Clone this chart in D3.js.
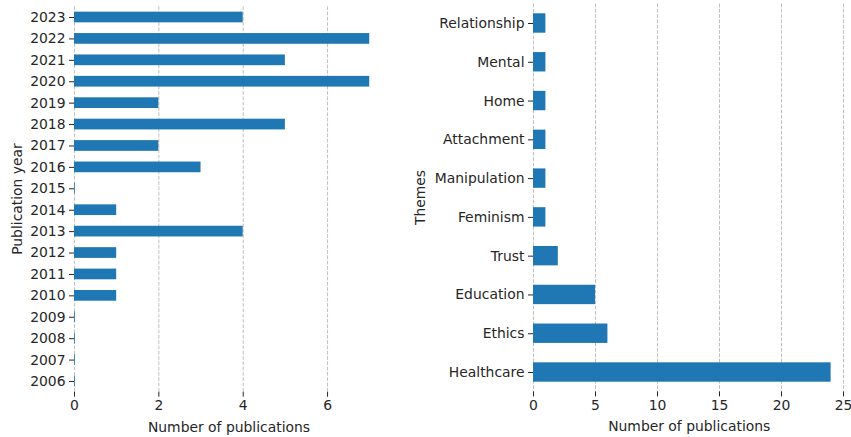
<!DOCTYPE html>
<html><head><meta charset="utf-8">
<script src="https://cdn.jsdelivr.net/npm/d3@7"></script>
<style>
body{margin:0;background:#fff;}
text{font-family:"DejaVu Sans",sans-serif;fill:#262626;}
</style></head>
<body>
<svg id="c" width="851" height="437"></svg>
<script>
const years = ["2006","2007","2008","2009","2010","2011","2012","2013","2014","2015","2016","2017","2018","2019","2020","2021","2022","2023"];
const yearCounts = [0,0,0,0,1,1,1,4,1,0,3,2,5,2,7,5,7,4];
const yearTicks = [0,2,4,6];

const themes = ["Healthcare","Ethics","Education","Trust","Feminism","Manipulation","Attachment","Home","Mental","Relationship"];
const themeCounts = [24,6,5,2,1,1,1,1,1,1];
const themeTicks = [0,5,10,15,20,25];

const color = "#1f77b4";
const FS = 13.9;
const svg = d3.select("#c");

function panel(opts){
  const {left,right,top,bottom,cats,vals,ticks,xmax,ylabel,ylabelX} = opts;
  const g = svg.append("g");
  const x = d3.scaleLinear().domain([0,xmax]).range([left,right]);
  const n = cats.length;
  const y = d3.scaleLinear().domain([-0.5,n-0.5]).range([bottom,top]);
  const bh = Math.abs(y(0.25)-y(-0.25));
  g.selectAll("line.grid").data(ticks).enter().append("line")
    .attr("x1",d=>x(d)+0.5).attr("x2",d=>x(d)+0.5)
    .attr("y1",top).attr("y2",bottom)
    .attr("stroke","#c0c0c0").attr("stroke-width",1)
    .attr("stroke-dasharray","3.7,1.6");
  g.selectAll("rect").data(vals).enter().append("rect")
    .attr("x",x(0))
    .attr("y",(d,i)=>y(i)-bh/2)
    .attr("width",d=>Math.max(x(d)-x(0),0.8))
    .attr("height",bh)
    .attr("fill",color);
  const xa = g.append("g").attr("transform",`translate(0,${bottom})`)
    .call(d3.axisBottom(x).tickValues(ticks).tickSize(5).tickPadding(3.5).tickFormat(d3.format("d")));
  xa.select(".domain").remove();
  xa.selectAll("line").attr("stroke","#262626").attr("stroke-width",1);
  xa.selectAll("text").attr("font-size",FS).attr("font-family","DejaVu Sans").attr("fill","#262626");
  const ya = g.append("g").attr("transform",`translate(${left},0)`)
    .call(d3.axisLeft(y).tickValues(d3.range(n)).tickSize(5).tickPadding(3.5).tickFormat(i=>cats[i]));
  ya.select(".domain").remove();
  ya.selectAll("line").attr("stroke","#262626").attr("stroke-width",1);
  ya.selectAll("text").attr("font-size",FS).attr("font-family","DejaVu Sans").attr("fill","#262626");
  g.append("text").attr("x",(left+right)/2).attr("y",bottom+40)
    .attr("text-anchor","middle").attr("font-size",FS).text("Number of publications");
  g.append("text").attr("transform",`translate(${ylabelX},${(top+bottom)/2}) rotate(-90)`)
    .attr("text-anchor","middle").attr("font-size",FS).text(ylabel);
}

panel({left:74,right:384,top:6.3,bottom:391.7,cats:years,vals:yearCounts,ticks:yearTicks,
  xmax:d3.max(yearCounts)*1.05,ylabel:"Publication year",ylabelX:22});
panel({left:533,right:845.5,top:3.6,bottom:391.4,cats:themes,vals:themeCounts,ticks:themeTicks,
  xmax:d3.max(themeCounts)*1.05,ylabel:"Themes",ylabelX:425});
</script>
</body></html>
